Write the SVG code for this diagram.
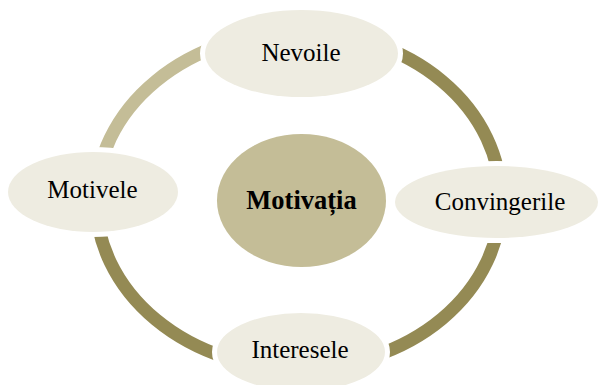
<svg xmlns="http://www.w3.org/2000/svg" width="598" height="385" viewBox="0 0 598 385">
  <style>
    .arc { fill: none; stroke-width: 13; stroke-linecap: butt; }
    .light { stroke: #c4bd97; }
    .dark { stroke: #948a54; }
    .node { fill: #eeece1; stroke: #ffffff; stroke-width: 10; paint-order: stroke; }
    .center { fill: #c4bd97; }
    .lbl { font-family: "Liberation Serif", "Times New Roman", serif; font-size: 25px; fill: #000000; text-anchor: middle; }
    .bold { font-weight: bold; font-size: 26.5px; }
  </style>
  <rect width="598" height="385" fill="#ffffff"/>
  <g id="connectors">
    <path class="arc light" d="M 96 200 A 204 168 0 0 1 300 32"/>
    <path class="arc dark" d="M 300 32 A 201 168 0 0 1 501 200"/>
    <path class="arc dark" d="M 501 200 A 201 168 0 0 1 300 368"/>
    <path class="arc dark" d="M 300 369 A 204 169 0 0 1 96 200"/>
  </g>
  <g id="node-motivatia">
    <ellipse class="center" cx="301.5" cy="200.5" rx="84.5" ry="66.5"/>
    <text class="lbl bold" x="301.5" y="209">Motivația</text>
  </g>
  <g id="node-nevoile">
    <ellipse class="node" cx="301.5" cy="53.5" rx="96.5" ry="43.5"/>
    <text class="lbl" x="301" y="61">Nevoile</text>
  </g>
  <g id="node-convingerile">
    <ellipse class="node" cx="496.5" cy="202" rx="101.5" ry="36"/>
    <text class="lbl" x="500" y="210">Convingerile</text>
  </g>
  <g id="node-interesele">
    <ellipse class="node" cx="301" cy="352" rx="84" ry="39"/>
    <text class="lbl" x="300" y="358">Interesele</text>
  </g>
  <g id="node-motivele">
    <ellipse class="node" cx="93" cy="192" rx="85" ry="40"/>
    <text class="lbl" x="92.5" y="198">Motivele</text>
  </g>
</svg>
